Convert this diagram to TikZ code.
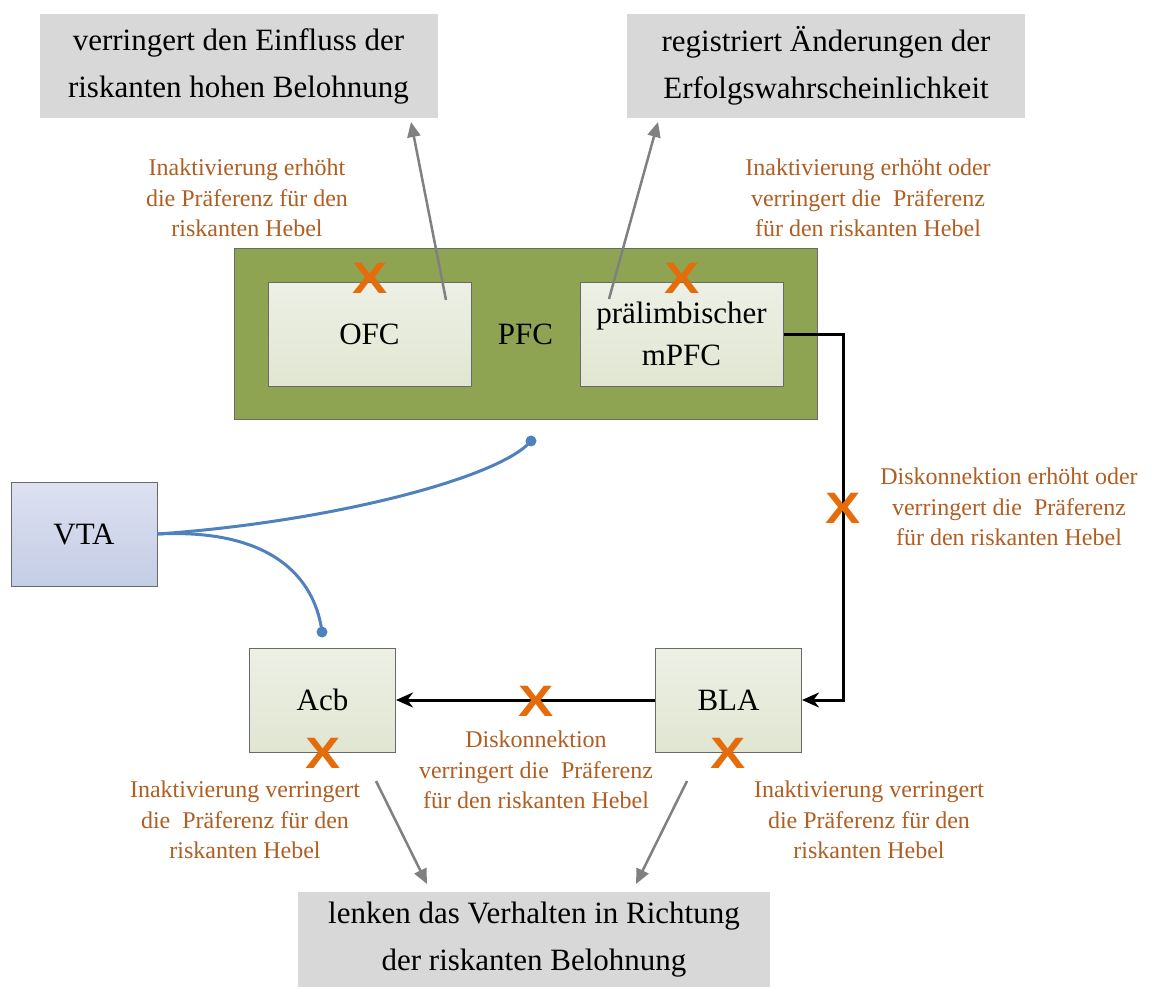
\documentclass[tikz,border=0pt]{standalone}
\usepackage{fontspec}
\setmainfont{Liberation Serif}
\newfontfamily\crossfont{Liberation Sans}
\usetikzlibrary{arrows.meta}

\definecolor{outgrey}{RGB}{216,216,216}
\definecolor{edgegrey}{RGB}{105,105,105}
\definecolor{pfcgreen}{RGB}{143,164,82}
\definecolor{regtop}{RGB}{237,240,229}
\definecolor{regbot}{RGB}{224,230,210}
\definecolor{vtatop}{RGB}{221,225,240}
\definecolor{vtabot}{RGB}{196,205,230}
\definecolor{notebrown}{RGB}{176,94,34}
\definecolor{xorange}{RGB}{228,108,10}
\definecolor{arrowgrey}{RGB}{128,128,128}
\definecolor{vtablue}{RGB}{79,129,189}

\tikzset{
  outcome/.style={fill=outgrey, draw=none, minimum width=398pt, minimum height=104pt,
    inner sep=0pt, align=center, font=\fontsize{31}{47}\selectfont},
  region/.style={draw=edgegrey, line width=1pt, top color=regtop, bottom color=regbot,
    minimum width=203pt, minimum height=104pt, inner sep=0pt, align=center,
    font=\fontsize{31}{42}\selectfont},
  note/.style={text=notebrown, align=center, inner sep=0pt,
    font=\fontsize{24}{30.5}\selectfont},
  cross/.style={text=xorange, inner sep=0pt,
    font=\crossfont\bfseries\fontsize{44}{44}\selectfont},
  effect/.style={draw=arrowgrey, line width=2.5pt, -{Triangle[length=15pt, width=13pt]}},
  link/.style={draw=black, line width=3pt, -{Stealth[length=17pt, width=15pt]}},
  dopa/.style={draw=vtablue, line width=3pt},
}

\newcommand{\crossmark}{\scalebox{1.2}[1]{X}}

\begin{document}
\begin{tikzpicture}[x=1pt, y=-1pt]
  \useasboundingbox (0,0) rectangle (1154,987);
  \fill[white] (0,0) rectangle (1154,987);

  % outcome boxes
  \node[outcome] (einfluss) at (238.5,66) {verringert den Einfluss der\\riskanten hohen Belohnung};
  \node[outcome] (erfolg) at (826,66) {registriert Änderungen der\\Erfolgswahrscheinlichkeit};
  \node[outcome, minimum width=472pt, minimum height=96pt] (richtung) at (534,940)
    {lenken das Verhalten in Richtung\\der riskanten Belohnung};

  % prefrontal cortex with its subregions
  \node[draw=edgegrey, line width=1pt, fill=pfcgreen, minimum width=583pt, minimum height=170pt,
    inner sep=0pt, font=\fontsize{31}{42}\selectfont] (pfc) at (525.5,334) {PFC};
  \node[region] (ofc) at (369.5,334) {OFC};
  \node[region] (mpfc) at (681.5,334) {prälimbischer\\mPFC};

  % subcortical regions
  \node[region, minimum width=146pt, top color=vtatop, bottom color=vtabot] (vta) at (84,534) {VTA};
  \node[region, minimum width=146pt] (acb) at (322.5,700) {Acb};
  \node[region, minimum width=146pt] (bla) at (728.5,700) {BLA};

  % projections
  \draw[link] (mpfc.east) -- ++(60,0) |- (bla.east);
  \draw[link] (bla.west) -- (acb.east);

  % dopaminergic input from VTA
  \coordinate (pfcdot) at (531,441);
  \coordinate (acbdot) at (322,632);
  \draw[dopa] (vta.east) .. controls (330,522) and (500,478) .. (pfcdot);
  \draw[dopa] (vta.east) .. controls (280,528) and (316,585) .. (acbdot);
  \fill[vtablue] (pfcdot) circle (5.5pt);
  \fill[vtablue] (acbdot) circle (5.5pt);

  % functional roles
  \coordinate (ofcsrc) at (446,300);
  \coordinate (einflusstip) at (411,122);
  \coordinate (mpfcsrc) at (609,299);
  \coordinate (erfolgtip) at (658,122);
  \coordinate (acbsrc) at (376,781);
  \coordinate (richtungl) at (427,884);
  \coordinate (blasrc) at (687,781);
  \coordinate (richtungr) at (636,884);
  \draw[effect] (ofcsrc) -- (einflusstip);
  \draw[effect] (mpfcsrc) -- (erfolgtip);
  \draw[effect] (acbsrc) -- (richtungl);
  \draw[effect] (blasrc) -- (richtungr);

  % lesion sites
  \node[cross] (xofc) at (370,278) {\crossmark};
  \node[cross] (xmpfc) at (682,278) {\crossmark};
  \node[cross] (xpath) at (843,508) {\crossmark};
  \node[cross] (xbla2acb) at (536,701) {\crossmark};
  \node[cross] (xacb) at (323,753) {\crossmark};
  \node[cross] (xbla) at (728,753) {\crossmark};

  % lesion effects
  \node[note] (nofc) at (247,198) {Inaktivierung erhöht\\die Präferenz für den\\riskanten Hebel};
  \node[note] (nmpfc) at (868,198) {Inaktivierung erhöht oder\\verringert die~ Präferenz\\für den riskanten Hebel};
  \node[note] (npath) at (1009,507) {Diskonnektion erhöht oder\\verringert die~ Präferenz\\für den riskanten Hebel};
  \node[note] (nbla2acb) at (536,770) {Diskonnektion\\verringert die~ Präferenz\\für den riskanten Hebel};
  \node[note] (nacb) at (245,820) {Inaktivierung verringert\\die~ Präferenz für den\\riskanten Hebel};
  \node[note] (nbla) at (869,820) {Inaktivierung verringert\\die Präferenz für den\\riskanten Hebel};
\end{tikzpicture}
\end{document}
